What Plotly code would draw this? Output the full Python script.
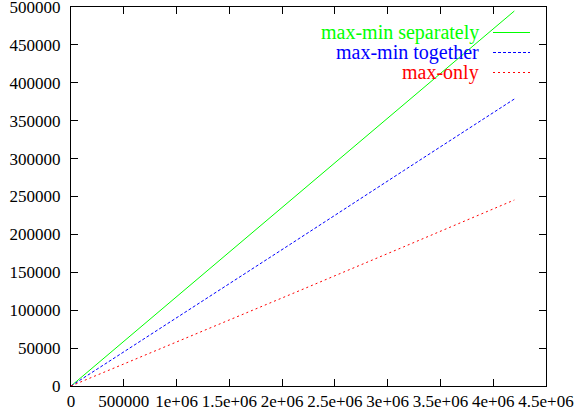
import plotly.graph_objects as go

# données
x_vals = [0, 1050000, 2100000, 3150000, 4200000]
sep_vals = [0, 123500, 247000, 371000, 494700]
tog_vals = [0, 94000, 189000, 284000, 378600]
only_vals = [0, 60500, 122000, 183500, 245400]

series_names = ['max-min separately', 'max-min together', 'max-only']
series_colors = ['#00ff00', '#0000ff', '#ff0000']
series_dash = ['solid', '3px,2px', '2px,3px']

x_ticks = [0, 500000, 1000000, 1500000, 2000000, 2500000, 3000000, 3500000, 4000000, 4500000]
x_labels = ['0', '500000', '1e+06', '1.5e+06', '2e+06', '2.5e+06', '3e+06', '3.5e+06', '4e+06', '4.5e+06']
y_ticks = [0, 50000, 100000, 150000, 200000, 250000, 300000, 350000, 400000, 450000, 500000]

FONT = 'Liberation Serif, Times New Roman, DejaVu Serif, serif'

fig = go.Figure()
for name, ys, col, dash in zip(series_names, [sep_vals, tog_vals, only_vals], series_colors, series_dash):
    fig.add_trace(go.Scatter(x=x_vals, y=ys, mode='lines', name=name,
                             line=dict(color=col, width=1, dash=dash), showlegend=False))

# légende façon gnuplot (texte à droite, échantillon de ligne)
legend_y = [32.5, 52.5, 72.5]
plot_top, plot_h = 7, 379
plot_left, plot_w = 71, 475
for name, col, dash, py in zip(series_names, series_colors, series_dash, legend_y):
    yp = 1 - (py - plot_top) / plot_h
    fig.add_annotation(x=(481 - plot_left) / plot_w, y=yp, xref='paper', yref='paper',
                       text=name, showarrow=False, xanchor='right', yanchor='middle',
                       font=dict(color=col, size=20, family=FONT))
    fig.add_shape(type='line', xref='paper', yref='paper',
                  x0=(493 - plot_left) / plot_w, x1=(530 - plot_left) / plot_w, y0=yp, y1=yp,
                  line=dict(color=col, width=1, dash=dash))

axis_style = dict(showline=True, linecolor='black', linewidth=1, mirror='ticks',
                  ticks='inside', ticklen=7, tickcolor='black', showgrid=False,
                  zeroline=False, automargin=False, ticklabeloverflow='allow',
                  tickfont=dict(size=17, color='black', family=FONT))

fig.update_xaxes(range=[0, 4500000], tickvals=x_ticks, ticktext=x_labels, tickangle=0, **axis_style)
fig.update_yaxes(range=[0, 500000], tickvals=y_ticks, ticktext=[str(v) for v in y_ticks],
                 ticklabelstandoff=6, **axis_style)

fig.update_layout(
    width=578, height=414,
    margin=dict(l=71, r=32, t=7, b=28),
    plot_bgcolor='white', paper_bgcolor='white',
    font=dict(family=FONT, size=17, color='black'),
)

# pas de marge autour du graphique dans la page, pas de barre d'outils
fig.write_html("out.html", config={'displayModeBar': False},
               post_script="document.body.style.margin='0';")
